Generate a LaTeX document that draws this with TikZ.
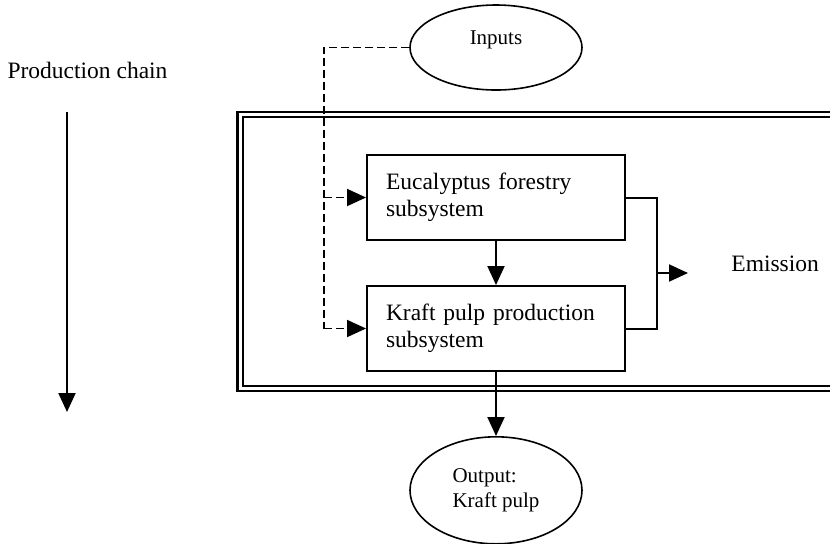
\documentclass[tikz,border=0pt]{standalone}
\usepackage{fontspec}
\setmainfont{Liberation Serif}
\usetikzlibrary{positioning,arrows.meta,shapes.geometric}
\tikzset{%
subsys/.style={draw,rectangle,line width=1pt,minimum width=129pt,minimum height=42.5pt,text width=110pt,inner xsep=9.5pt,align=left,font=\fontsize{11.75}{13.5}\selectfont},
io/.style={draw,ellipse,line width=0.8pt,minimum width=86pt,minimum height=42.5pt,inner sep=0pt,font=\fontsize{10.5}{12.5}\selectfont},
plain/.style={font=\fontsize{11.75}{13.5}\selectfont},
flow/.style={line width=1pt,-{Triangle[length=9.5pt,width=8.5pt]}},
feedline/.style={line width=0.9pt,dash pattern=on 4pt off 2pt},
feed/.style={flow,line width=0.9pt,dash pattern=on 4pt off 2pt},
sysframe/.style={line width=1.1pt,double,double distance=1.5pt}
}
\begin{document}
\begin{tikzpicture}[x=0.5pt,y=-0.5pt]
    \useasboundingbox (0,0) rectangle (830,543);

    \draw[sysframe] (834,114.5) -- (240,114.5) -- (240,388.5) -- (834,388.5);

    \node[subsys] (euc) at (496,197.5) {Eucalyptus forestry\\subsystem};
    \node[subsys] (kraft) [below=22pt of euc] {Kraft pulp production\\subsystem};
    \node[io,text depth=10pt] (inputs) at (496,47.5) {Inputs};
    \node[io,minimum height=53.5pt,align=left] (output) [below=32pt of kraft] {Output:\\Kraft pulp};
    \node[plain,anchor=west,inner xsep=0pt] (emission) at (731,264) {Emission};
    \node[plain] (chain) at (87.5,70) {Production chain};

    \coordinate (chaintop) at (67,112);
    \coordinate (chainend) at (67,412);
    \coordinate (feedpt) at (324,0);
    \coordinate (join) at (657,273);
    \coordinate (emitend) at (688,273);

    % inputs into both subsystems
    \draw[feedline] (inputs.west) -| (feedpt |- kraft.west);
    \draw[feed] (feedpt |- euc.west) -- (euc.west);
    \draw[feed] (feedpt |- kraft.west) -- (kraft.west);

    \draw[flow] (euc) -- (kraft);
    \draw[flow] (kraft) -- (output);

    \draw[line width=1pt] (euc.east) -| (join) |- (kraft.east);
    \draw[flow] (join) -- (emitend);

    \draw[flow] (chaintop) -- (chainend);
  \end{tikzpicture}
\end{document}
